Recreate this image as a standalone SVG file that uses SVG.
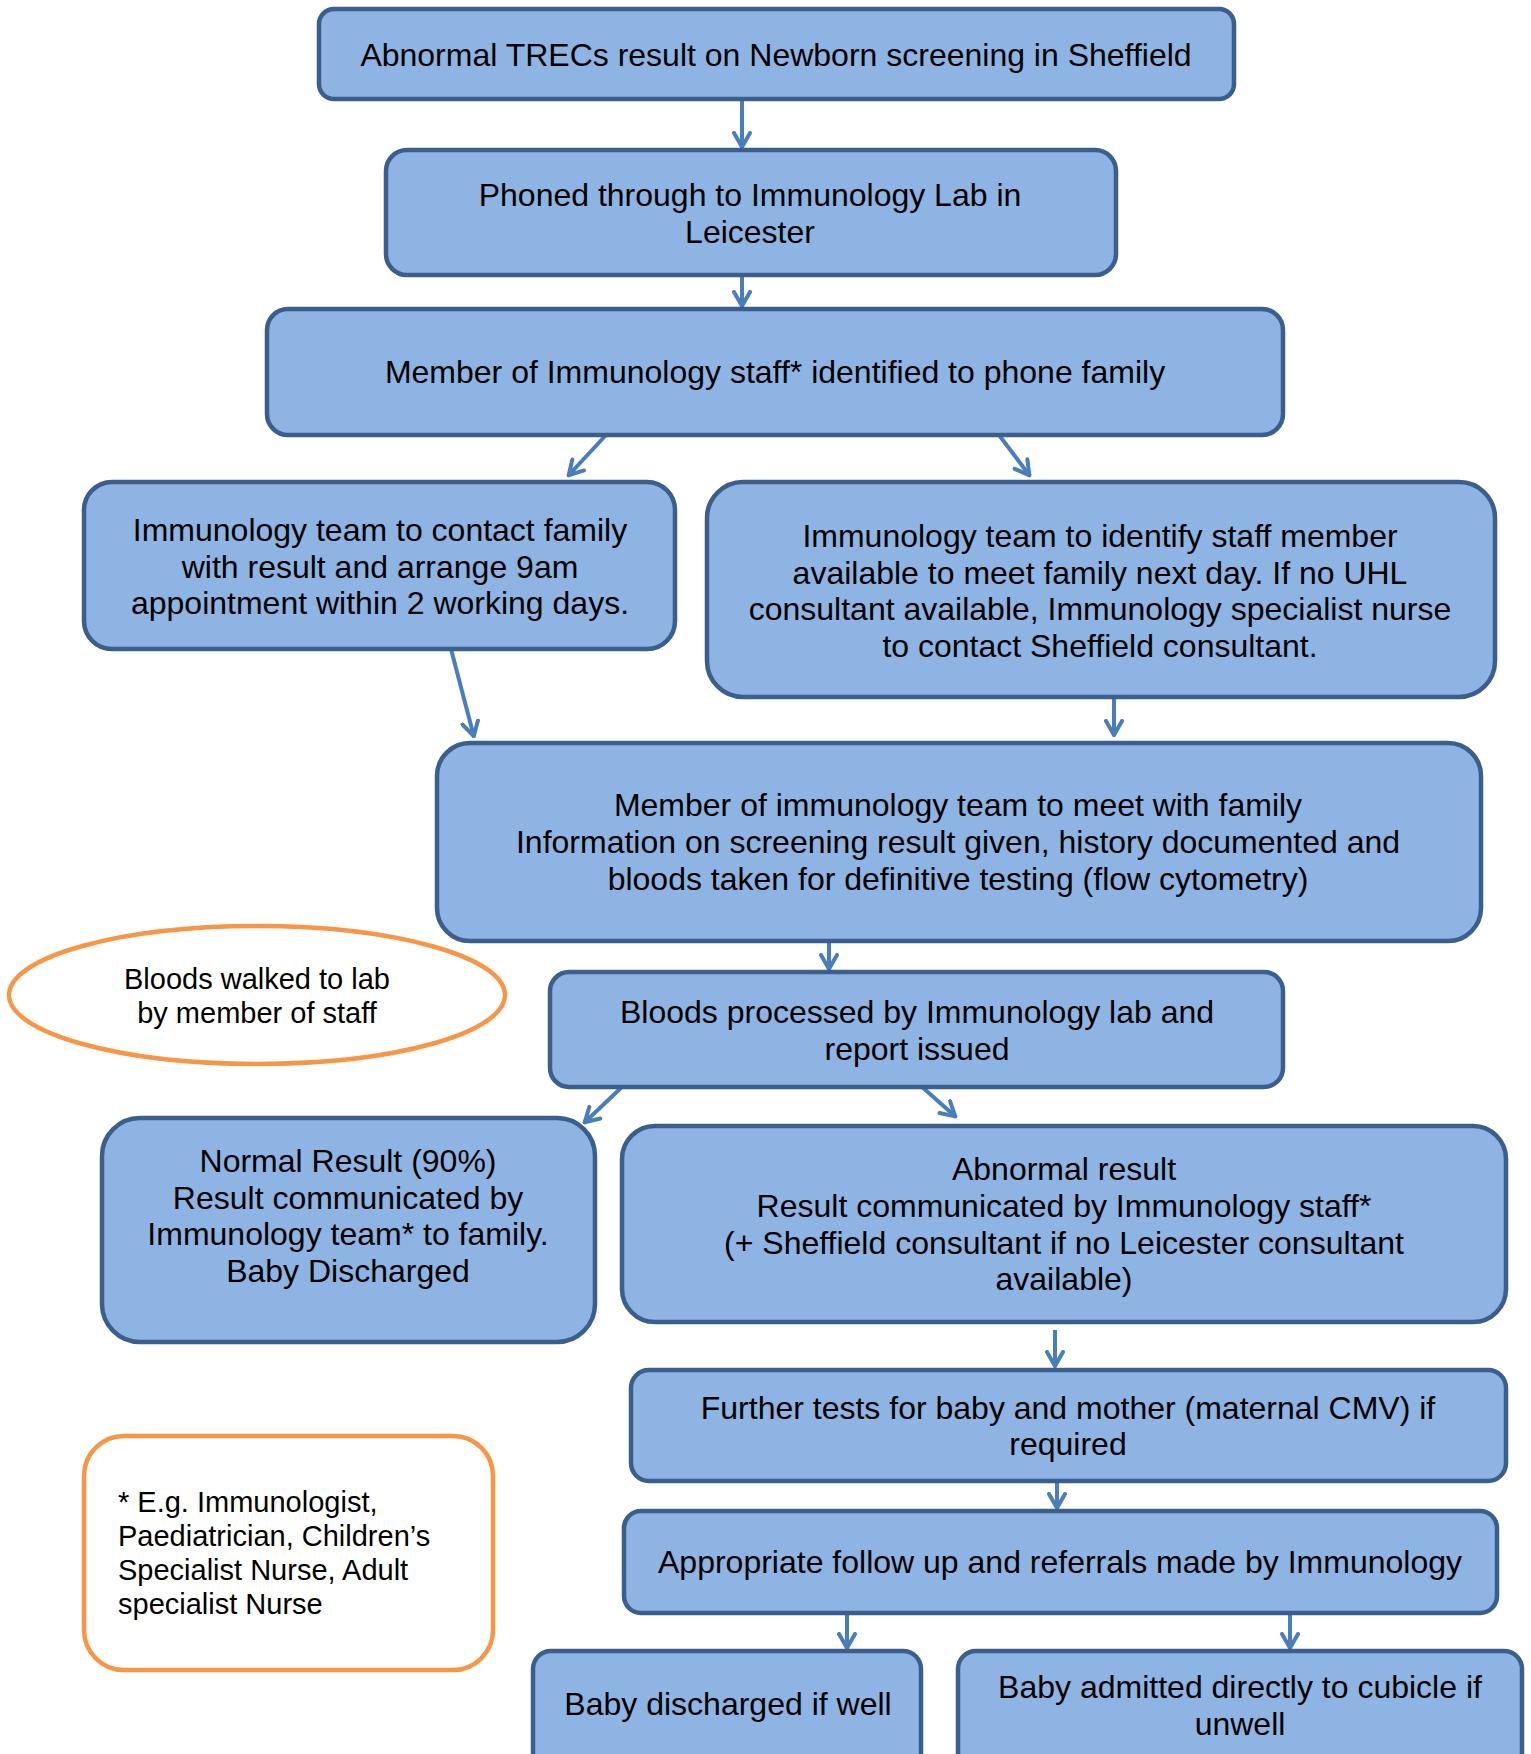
<svg xmlns="http://www.w3.org/2000/svg" width="1531" height="1754" viewBox="0 0 1531 1754">
<defs>
<style>
.box{fill:#8EB4E3;stroke:#3B5E8C;stroke-width:4.5}
.t{font-family:"Liberation Sans",Arial,sans-serif;font-size:32px;fill:#000;text-anchor:middle}
.s{font-family:"Liberation Sans",Arial,sans-serif;font-size:29px;fill:#000}
.c{fill:none;stroke:#4A7EBB;stroke-width:4;marker-end:url(#ah)}
.o{fill:#fff;stroke:#F79646;stroke-width:4.5}
</style>
<marker id="ah" viewBox="0 0 18 20" refX="17" refY="10" markerWidth="18" markerHeight="20" markerUnits="userSpaceOnUse" orient="auto">
<path d="M2,2 L16,10 L2,18" fill="none" stroke="#4A7EBB" stroke-width="4" stroke-linecap="round" stroke-linejoin="miter"/>
</marker>
</defs>
<rect width="1531" height="1754" fill="#fff"/>
<g id="connectors">
<line class="c" x1="742" y1="99" x2="742" y2="148"/>
<line class="c" x1="742" y1="276" x2="742" y2="307"/>
<line class="c" x1="606" y1="435" x2="568" y2="476"/>
<line class="c" x1="999" y1="435" x2="1030" y2="476"/>
<line class="c" x1="451" y1="649" x2="474" y2="737"/>
<line class="c" x1="1114" y1="699" x2="1114" y2="736"/>
<line class="c" x1="829" y1="942" x2="829" y2="970"/>
<line class="c" x1="622" y1="1087" x2="584" y2="1123"/>
<line class="c" x1="913" y1="1079" x2="956" y2="1117"/>
<line class="c" x1="1055" y1="1330" x2="1055" y2="1367"/>
<line class="c" x1="1057" y1="1482" x2="1057" y2="1509"/>
<line class="c" x1="847" y1="1613" x2="847" y2="1649"/>
<line class="c" x1="1290" y1="1613" x2="1290" y2="1649"/>
</g>
<g id="n1">
<rect class="box" x="319" y="9" width="915" height="90" rx="15"/>
<text class="t" x="776" y="66">Abnormal TRECs result on Newborn screening in Sheffield</text>
</g>
<g id="n2">
<rect class="box" x="386" y="150" width="730" height="125" rx="21"/>
<text class="t" x="750" y="206">Phoned through to Immunology Lab in</text>
<text class="t" x="750" y="243">Leicester</text>
</g>
<g id="n3">
<rect class="box" x="267" y="309" width="1016" height="126" rx="21"/>
<text class="t" x="775" y="383">Member of Immunology staff* identified to phone family</text>
</g>
<g id="n4">
<rect class="box" x="84" y="482" width="591" height="167" rx="28"/>
<text class="t" x="380" y="541">Immunology team to contact family</text>
<text class="t" x="380" y="578">with result and arrange 9am</text>
<text class="t" x="380" y="614">appointment within 2 working days.</text>
</g>
<g id="n5">
<rect class="box" x="707" y="482" width="788" height="215" rx="36"/>
<text class="t" x="1100" y="547">Immunology team to identify staff member</text>
<text class="t" x="1100" y="584">available to meet family next day. If no UHL</text>
<text class="t" x="1100" y="620">consultant available, Immunology specialist nurse</text>
<text class="t" x="1100" y="657">to contact Sheffield consultant.</text>
</g>
<g id="n6">
<rect class="box" x="437" y="743" width="1044" height="198" rx="33"/>
<text class="t" x="958" y="816">Member of immunology team to meet with family</text>
<text class="t" x="958" y="853">Information on screening result given, history documented and</text>
<text class="t" x="958" y="890">bloods taken for definitive testing (flow cytometry)</text>
</g>
<g id="n7">
<ellipse class="o" cx="257" cy="995" rx="248" ry="69"/>
<text class="s" x="257" y="989" text-anchor="middle">Bloods walked to lab</text>
<text class="s" x="257" y="1023" text-anchor="middle">by member of staff</text>
</g>
<g id="n8">
<rect class="box" x="550" y="972" width="733" height="115" rx="19"/>
<text class="t" x="917" y="1023">Bloods processed by Immunology lab and</text>
<text class="t" x="917" y="1060">report issued</text>
</g>
<g id="n9">
<rect class="box" x="102" y="1118" width="493" height="224" rx="38"/>
<text class="t" x="348" y="1172">Normal Result (90%)</text>
<text class="t" x="348" y="1209">Result communicated by</text>
<text class="t" x="348" y="1245">Immunology team* to family.</text>
<text class="t" x="348" y="1282">Baby Discharged</text>
</g>
<g id="n10">
<rect class="box" x="622" y="1126" width="884" height="196" rx="33"/>
<text class="t" x="1064" y="1180">Abnormal result</text>
<text class="t" x="1064" y="1217">Result communicated by Immunology staff*</text>
<text class="t" x="1064" y="1254">(+ Sheffield consultant if no Leicester consultant</text>
<text class="t" x="1064" y="1290">available)</text>
</g>
<g id="n11">
<rect class="box" x="631" y="1370" width="875" height="111" rx="18"/>
<text class="t" x="1068" y="1419">Further tests for baby and mother (maternal CMV) if</text>
<text class="t" x="1068" y="1455">required</text>
</g>
<g id="n12">
<rect class="box" x="624" y="1511" width="873" height="102" rx="17"/>
<text class="t" x="1060" y="1573">Appropriate follow up and referrals made by Immunology</text>
</g>
<g id="n13">
<rect class="o" x="84" y="1436" width="409" height="234" rx="40"/>
<text class="s" x="118" y="1512">* E.g. Immunologist,</text>
<text class="s" x="118" y="1546">Paediatrician, Children’s</text>
<text class="s" x="118" y="1580">Specialist Nurse, Adult</text>
<text class="s" x="118" y="1614">specialist Nurse</text>
</g>
<g id="n14">
<rect class="box" x="533" y="1651" width="388" height="125" rx="18"/>
<text class="t" x="728" y="1715">Baby discharged if well</text>
</g>
<g id="n15">
<rect class="box" x="958" y="1651" width="564" height="125" rx="18"/>
<text class="t" x="1240" y="1698">Baby admitted directly to cubicle if</text>
<text class="t" x="1240" y="1735">unwell</text>
</g>
</svg>
